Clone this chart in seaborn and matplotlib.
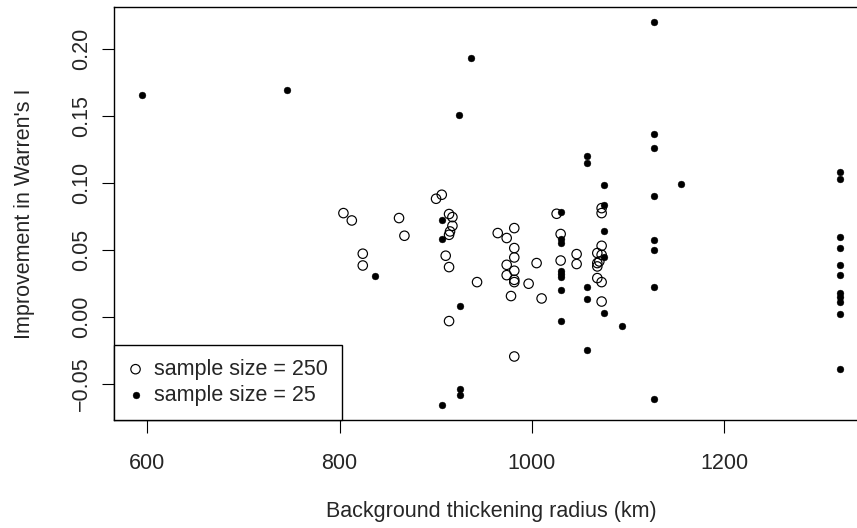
import matplotlib
matplotlib.use("Agg")
import matplotlib.pyplot as plt
import seaborn as sns
import pandas as pd

# sample size = 250 (open circles)
x250 = [804.0, 812.7, 861.8, 867.4, 824.1, 824.1, 900.3, 906.2, 913.8, 917.3,
        917.3, 914.8, 913.8, 910.3, 913.8, 913.8, 942.9, 964.4, 973.7, 981.6,
        981.6, 981.6, 973.7, 973.7, 981.6, 981.6, 981.6, 978.2, 981.6, 996.5,
        1004.8, 1010.0, 1025.6, 1029.8, 1029.8, 1046.4, 1046.4, 1072.4, 1072.4, 1072.4,
        1067.9, 1072.4, 1067.9, 1070.0, 1067.9, 1067.9, 1072.4, 1072.4]
y250 = [0.0776, 0.0721, 0.0739, 0.0607, 0.0473, 0.0385, 0.0883, 0.0913, 0.0769, 0.0746,
        0.0681, 0.0639, 0.0614, 0.0458, 0.0373, -0.0030, 0.0261, 0.0627, 0.0590, 0.0664,
        0.0515, 0.0445, 0.0390, 0.0313, 0.0346, 0.0278, 0.0261, 0.0157, -0.0294, 0.0249,
        0.0403, 0.0139, 0.0771, 0.0620, 0.0422, 0.0470, 0.0396, 0.0813, 0.0776, 0.0532,
        0.0478, 0.0465, 0.0403, 0.0415, 0.0378, 0.0291, 0.0261, 0.0116]

# sample size = 25 (filled dots)
x25 = [594.5, 745.1, 836.5, 1126.8, 936.6, 924.5, 1126.8, 1126.8, 1056.8, 1056.8,
       1075.1, 1155.1, 1126.8, 1075.1, 1029.8, 906.8, 906.8, 924.9, 924.9, 924.9,
       906.8, 1029.8, 1029.8, 1029.8, 1029.8, 1029.8, 1029.8, 1029.8, 1056.8, 1056.8,
       1056.8, 1075.1, 1075.1, 1075.1, 1093.5, 1126.8, 1126.8, 1126.8, 1126.8, 1320.3,
       1320.3, 1320.3, 1320.3, 1320.3, 1320.3, 1320.3, 1320.3, 1320.3, 1320.3, 1320.3]
y25 = [0.1660, 0.1694, 0.0310, 0.2200, 0.1930, 0.1510, 0.1368, 0.1263, 0.1204, 0.1147,
       0.0987, 0.0990, 0.0903, 0.0838, 0.0786, 0.0721, 0.0584, 0.0079, -0.0537, -0.0580,
       -0.0654, 0.0582, 0.0555, 0.0345, 0.0323, 0.0300, 0.0201, -0.0028, 0.0224, 0.0137,
       -0.0249, 0.0644, 0.0448, 0.0027, -0.0065, 0.0572, 0.0497, 0.0224, -0.0612, 0.1082,
       0.1030, 0.0597, 0.0519, 0.0390, 0.0313, 0.0179, 0.0149, 0.0116, 0.0022, -0.0386]

xticks = [600, 800, 1000, 1200]
yticks = [-0.05, 0.00, 0.05, 0.10, 0.15, 0.20]
labels = ["sample size = 250", "sample size = 25"]
xlabel = "Background thickening radius (km)"
ylabel = "Improvement in Warren's I"

sns.set_style("ticks")
plt.rcParams["font.family"] = ["Liberation Sans", "DejaVu Sans"]

FS = 15.5

fig = plt.figure(figsize=(8.57, 5.28), dpi=100)
ax = fig.add_axes([114 / 857, 108 / 528, 754 / 857, 413 / 528])

df250 = pd.DataFrame({"x": x250, "y": y250})
df25 = pd.DataFrame({"x": x25, "y": y25})

sns.scatterplot(data=df250, x="x", y="y", ax=ax, marker="o", s=46,
                facecolors="none", edgecolor="black", linewidth=0.85,
                label=labels[0], legend=False, zorder=3)
sns.scatterplot(data=df25, x="x", y="y", ax=ax, marker="o", s=24,
                color="black", edgecolor="black", linewidth=0.3,
                label=labels[1], legend=False, zorder=4)

ax.set_xlim(565.5, 1349.3)
ax.set_ylim(-0.0768, 0.2314)
ax.set_xticks(xticks)
ax.set_xticklabels([str(t) for t in xticks])
ax.set_yticks(yticks)
ax.set_yticklabels([f"{t:.2f}".replace("-", "\u2212") if abs(t) > 1e-9 else "0.00"
                    for t in yticks], rotation=90, va="center")

for sp in ax.spines.values():
    sp.set_visible(True)
    sp.set_color("black")
    sp.set_linewidth(1.0)

ax.tick_params(axis="both", labelsize=FS, length=9, width=0.8, color="black")
ax.tick_params(axis="x", pad=15)
ax.tick_params(axis="y", pad=7)

ax.set_xlabel(xlabel, fontsize=FS, labelpad=19)
ax.set_ylabel(ylabel, fontsize=FS, labelpad=26)

leg = ax.legend(loc="lower left", bbox_to_anchor=(0, 0), borderaxespad=0,
                fontsize=FS, frameon=True, fancybox=False, framealpha=1,
                edgecolor="black", handletextpad=0.5, handlelength=0.7,
                borderpad=0.65, labelspacing=0.24, markerscale=1.0)
leg.get_frame().set_linewidth(1.0)

fig.savefig("out.png", dpi=100)
